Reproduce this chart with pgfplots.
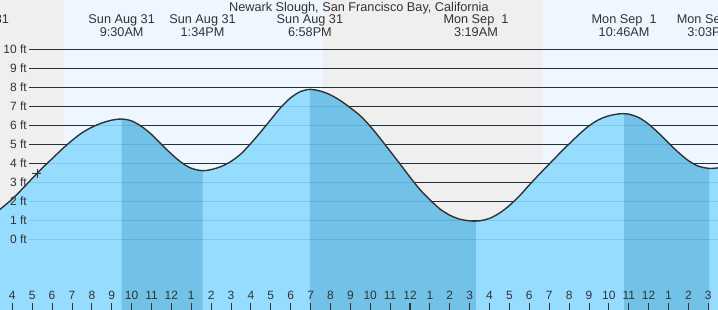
\documentclass[border=0pt]{standalone}
\usepackage{fontspec}
\setmainfont{Liberation Sans}
\usepackage{pgfplots}
\pgfplotsset{compat=1.18}
\usepgfplotslibrary{fillbetween}
\usepackage{pgfplotstable}
\tikzset{fill between/on layer=main}

\definecolor{bggray}{RGB}{239,239,239}
\definecolor{bgday}{RGB}{238,247,255}
\definecolor{filllight}{RGB}{150,220,255}
\definecolor{filldark}{RGB}{114,193,230}
\definecolor{txt}{RGB}{51,51,51}
\definecolor{gridc}{RGB}{45,45,45}
\definecolor{faint}{RGB}{0,80,140}

\pgfplotstableread{
h ft
3.00 1.35
3.38 1.58
3.50 1.68
4.00 2.12
4.50 2.65
5.00 3.20
5.50 3.74
6.00 4.24
6.50 4.74
7.00 5.20
7.50 5.60
8.00 5.90
8.50 6.12
9.00 6.27
9.50 6.33
10.00 6.23
10.50 5.94
11.00 5.52
11.50 5.00
12.00 4.49
12.50 4.05
13.00 3.74
13.567 3.61
14.00 3.67
14.50 3.83
15.00 4.10
15.50 4.50
16.00 5.05
16.50 5.66
17.00 6.30
17.50 6.94
18.00 7.45
18.50 7.78
18.967 7.89
19.50 7.80
20.00 7.60
20.50 7.30
21.00 6.92
21.50 6.50
22.00 5.95
22.50 5.31
23.00 4.64
23.50 3.96
24.00 3.27
24.50 2.62
25.00 2.08
25.50 1.60
26.00 1.27
26.50 1.06
27.00 0.97
27.317 0.96
27.50 0.97
28.00 1.10
28.50 1.38
29.00 1.78
29.50 2.28
30.00 2.86
30.50 3.42
31.00 3.96
31.50 4.50
32.00 5.02
32.50 5.52
33.00 5.97
33.50 6.30
34.00 6.50
34.50 6.60
34.767 6.61
35.00 6.59
35.50 6.41
36.00 6.06
36.50 5.59
37.00 5.07
37.50 4.57
38.00 4.14
38.50 3.85
39.05 3.73
39.50 3.76
39.80 3.82
}\tide

\newcommand\lab{\fontsize{12}{14}\selectfont}
\newcommand\hdf{\fontsize{12.7}{14}\selectfont}

\begin{document}
\begin{tikzpicture}
\begin{axis}[
  at={(0,0)}, anchor=south west,
  width=718pt, height=310pt, scale only axis,
  xmin=3.3815, xmax=39.488, ymin=-3.721, ymax=12.595,
  axis line style={draw=none},
  ytick=\empty,
  xtick={4,5,...,39},
  xticklabels={4,5,6,7,8,9,10,11,12,1,2,3,4,5,6,7,8,9,10,11,12,1,2,3,4,5,6,7,8,9,10,11,12,1,2,3},
  extra x ticks={24},
  extra x tick labels={},
  extra x tick style={tick style={line width=2.4pt}},
  tick pos=left,
  tick align=inside,
  major tick length=7pt,
  tick style={draw=txt, line width=0.9pt},
  xticklabel style={anchor=base, yshift=10pt, font=\lab, text=txt, inner sep=0pt},
  /pgf/number format/assume math mode=true,
  axis on top,
  clip=true,
]
% day / night background
\fill[bggray] (axis cs:3,-5) rectangle (axis cs:6.60,13);
\fill[bgday] (axis cs:6.60,-5) rectangle (axis cs:19.62,13);
\fill[bggray] (axis cs:19.62,-5) rectangle (axis cs:30.64,13);
\fill[bgday] (axis cs:30.64,-5) rectangle (axis cs:40,13);
% grid lines
\pgfplotsinvokeforeach{0,...,10}{
  \draw[gridc, line width=1pt] (axis cs:4.84,#1) -- (axis cs:40,#1);
}
% tide fill
\addplot[name path=tide, draw=none, smooth] table[x=h, y=ft] {\tide};
\addplot[name path=bot, draw=none] coordinates {(3,-5) (40,-5)};
\addplot[fill=filllight, draw=none] fill between[of=tide and bot];
\addplot[fill=filldark, draw=none] fill between[of=tide and bot, soft clip={domain=9.5:13.567}];
\addplot[fill=filldark, draw=none] fill between[of=tide and bot, soft clip={domain=18.967:27.317}];
\addplot[fill=filldark, draw=none] fill between[of=tide and bot, soft clip={domain=34.767:39.05}];
% faint grid lines over the water
\pgfplotsinvokeforeach{0,...,10}{
  \draw[faint, opacity=0.15, line width=1pt] (axis cs:4.84,#1) -- (axis cs:40,#1);
}
% tide curve
\addplot[smooth, draw=txt, line width=1.4pt] table[x=h, y=ft] {\tide};
% current time marker
\addplot[only marks, mark=+, mark size=4.5pt, mark options={line width=0.9pt, draw=txt}] coordinates {(5.24,3.47)};
% y labels
\pgfplotsinvokeforeach{0,...,10}{
  \node[anchor=east, inner sep=0pt, text=txt, font=\lab] at (axis cs:4.74,#1) {#1 ft};
}
% title and headers
\node[anchor=base, inner sep=0pt, text=txt, font=\hdf] at (axis cs:21.43,12.0) {Newark Slough, San Francisco Bay, California};
\node[anchor=base, inner sep=0pt, text=txt, font=\hdf] at (axis cs:2.16,11.358) {Sun Aug 31};
\node[anchor=base, inner sep=0pt, text=txt, font=\hdf] at (axis cs:2.16,10.674) {2:10AM};
\node[anchor=base, inner sep=0pt, text=txt, font=\hdf] at (axis cs:9.5,11.358) {Sun Aug 31};
\node[anchor=base, inner sep=0pt, text=txt, font=\hdf] at (axis cs:9.5,10.674) {9:30AM};
\node[anchor=base, inner sep=0pt, text=txt, font=\hdf] at (axis cs:13.567,11.358) {Sun Aug 31};
\node[anchor=base, inner sep=0pt, text=txt, font=\hdf] at (axis cs:13.567,10.674) {1:34PM};
\node[anchor=base, inner sep=0pt, text=txt, font=\hdf] at (axis cs:18.967,11.358) {Sun Aug 31};
\node[anchor=base, inner sep=0pt, text=txt, font=\hdf] at (axis cs:18.967,10.674) {6:58PM};
\node[anchor=base, inner sep=0pt, text=txt, font=\hdf] at (axis cs:27.317,11.358) {Mon Sep\ \ 1};
\node[anchor=base, inner sep=0pt, text=txt, font=\hdf] at (axis cs:27.317,10.674) {3:19AM};
\node[anchor=base, inner sep=0pt, text=txt, font=\hdf] at (axis cs:34.767,11.358) {Mon Sep\ \ 1};
\node[anchor=base, inner sep=0pt, text=txt, font=\hdf] at (axis cs:34.767,10.674) {10:46AM};
\node[anchor=base, inner sep=0pt, text=txt, font=\hdf] at (axis cs:39.05,11.358) {Mon Sep\ \ 1};
\node[anchor=base, inner sep=0pt, text=txt, font=\hdf] at (axis cs:39.05,10.674) {3:03PM};
\end{axis}
\pgfresetboundingbox
\useasboundingbox (0,0) rectangle (718pt,310pt);
\end{tikzpicture}
\end{document}
